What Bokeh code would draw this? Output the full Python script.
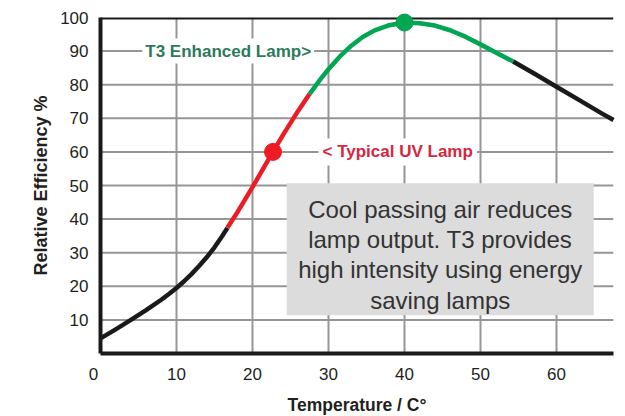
from bokeh.plotting import figure
from bokeh.models import FixedTicker, Label, BoxAnnotation, Span
from bokeh.embed import file_html
from bokeh.resources import INLINE

# ---- data ----
temp_black1 = [0, 2, 4, 6, 8, 9, 10, 11, 12, 13, 14, 15, 16, 16.7]
eff_black1 = [4.5, 7.2, 10.0, 12.9, 16.0, 17.7, 19.5, 21.5, 23.7, 26.1, 28.7, 31.6, 34.9, 37.4]

temp_red = [16.7, 18, 20, 22, 24, 26, 27.5]
eff_red = [37.4, 42.0, 49.5, 57.3, 65.0, 72.2, 77.2]

temp_green = [27.5, 29, 30, 31.5, 33, 34.5, 36, 38, 40, 42, 44, 46, 48, 50, 52, 54.3]
eff_green = [77.2, 81.8, 84.6, 88.4, 91.6, 94.2, 96.1, 97.7, 98.5, 98.3, 97.6, 96.2, 94.3, 92.0, 89.6, 86.9]

temp_black2 = [54.3, 57, 60, 63, 66, 67.5]
eff_black2 = [86.9, 83.4, 79.4, 75.4, 71.4, 69.5]

typical_point_x = [22.7]
typical_point_y = [60]
t3_point_x = [40]
t3_point_y = [98.5]

x_ticks = [10, 20, 30, 40, 50, 60]
y_ticks = [10, 20, 30, 40, 50, 60, 70, 80, 90, 100]
origin_label = "0"

note_lines = ["Cool passing air reduces", "lamp output. T3 provides",
              "high intensity using energy", "saving lamps"]

BLACK = "#1a1a1a"
RED = "#ed1c24"
GREEN = "#00a651"
GRID = "#969698"
FONT = "Liberation Sans"

p = figure(frame_width=513, frame_height=336, x_range=(0, 67.5), y_range=(0, 100),
           output_backend="svg", toolbar_location=None,
           min_border_left=100, min_border_right=8, min_border_top=17, min_border_bottom=63)
p.outline_line_color = None
p.xgrid.visible = False
p.ygrid.visible = False

for ax in (p.xaxis[0], p.yaxis[0]):
    ax.axis_line_width = 4
    ax.axis_line_color = BLACK
    ax.major_tick_line_color = None
    ax.minor_tick_line_color = None
    ax.major_label_text_font = FONT
    ax.major_label_text_font_size = "17px"
    ax.major_label_text_color = "#231f20"
    ax.axis_label_text_font = FONT
    ax.axis_label_text_font_style = "bold"
    ax.axis_label_text_color = "#231f20"

p.xaxis.ticker = FixedTicker(ticks=[0] + x_ticks)
p.xaxis.major_label_overrides = {0: origin_label + "\u00a0\u00a0\u00a0"}
p.yaxis.ticker = FixedTicker(ticks=y_ticks)
p.xaxis.major_label_standoff = 5
p.yaxis.major_label_standoff = 6
p.xaxis.axis_label = "Temperature / C°"
p.yaxis.axis_label = "Relative Efficiency %"
p.xaxis.axis_label_text_font_size = "17.5px"
p.yaxis.axis_label_text_font_size = "18px"
p.xaxis.axis_label_standoff = 8
p.yaxis.axis_label_standoff = 6

# grid lines at the tick positions (below the curve)
for t in x_ticks:
    p.add_layout(Span(location=t, dimension="height", line_color=GRID,
                      line_width=2, level="glyph"))
for t in y_ticks[:-1]:
    p.add_layout(Span(location=t, dimension="width", line_color=GRID,
                      line_width=2, level="glyph"))

p.add_layout(Span(location=100, dimension="width", line_color=BLACK, line_width=4))

# curve segments (drawn on top of grid and frame line)
p.line(temp_black1, eff_black1, line_color=BLACK, line_width=4.5, line_join="round", level="overlay")
p.line(temp_red, eff_red, line_color=RED, line_width=4.5, line_join="round", level="overlay")
p.line(temp_green, eff_green, line_color=GREEN, line_width=4.5, line_join="round", level="overlay")
p.line(temp_black2, eff_black2, line_color=BLACK, line_width=4.5, line_join="round", level="overlay")

p.scatter(typical_point_x, typical_point_y, size=17, color=RED, level="overlay")
p.scatter(t3_point_x, t3_point_y, size=17, color=GREEN, level="overlay")

# series labels
p.add_layout(Label(x=16.8, y=90, text="T3 Enhanced Lamp>", text_font=FONT,
                   text_font_size="17px", text_font_style="bold", text_color="#2c7a5b",
                   text_align="center", text_baseline="middle",
                   background_fill_color="white", padding=3))
p.add_layout(Label(x=39.1, y=60, text="< Typical UV Lamp", text_font=FONT,
                   text_font_size="17px", text_font_style="bold", text_color="#d7263d",
                   text_align="center", text_baseline="middle",
                   background_fill_color="white", padding=4))

# note box
p.add_layout(BoxAnnotation(left=24.5, right=64.9, bottom=11.4, top=50.7,
                           fill_color="#dcdcdc", fill_alpha=1.0, line_color=None))
note_y = [42.95, 33.93, 24.91, 15.86]
for txt, yy in zip(note_lines, note_y):
    p.add_layout(Label(x=44.7, y=yy, text=txt, text_font=FONT, text_font_size="24px",
                       text_color="#333333", text_align="center",
                       text_baseline="alphabetic"))

open("out.html", "w").write(file_html(p, INLINE))
